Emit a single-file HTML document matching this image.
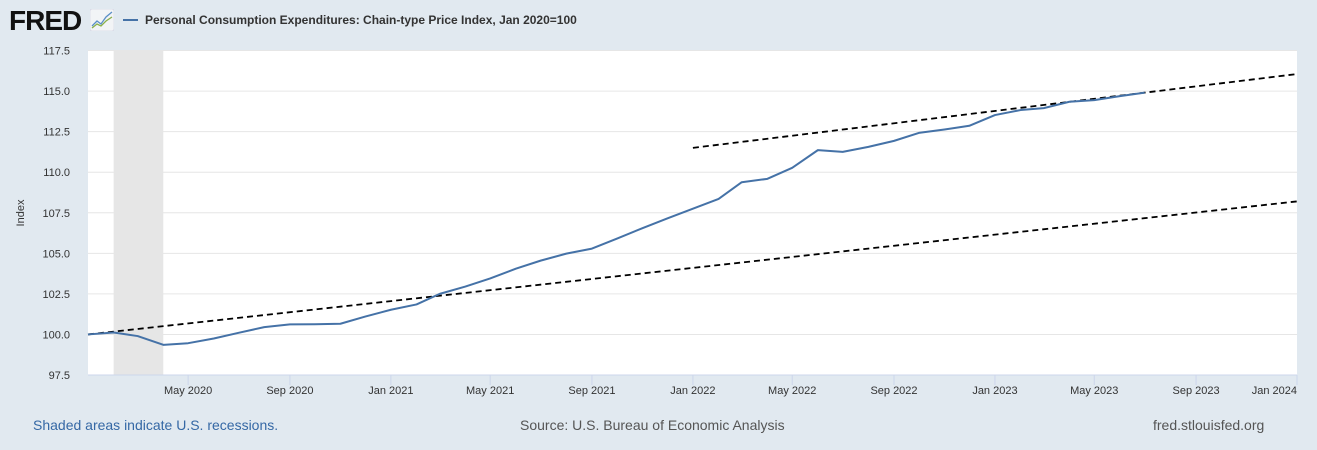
<!DOCTYPE html>
<html><head><meta charset="utf-8">
<style>
body{margin:0;background:#e1e9f0;font-family:"Liberation Sans",Arial,sans-serif;}
#wrap{position:relative;width:1317px;height:450px;overflow:hidden;background:#e1e9f0;}
.t{position:absolute;white-space:nowrap;}
</style></head><body>
<div id="wrap">
<div class="t" style="left:9px;top:5px;font-size:28px;font-weight:bold;letter-spacing:-1px;color:#111;">FRED</div>
<svg class="t" style="left:90px;top:9px" width="24" height="22"><rect x="0" y="0" width="24" height="22" rx="2" fill="#f2f4f6" stroke="#ccd" stroke-width="0.5"/><polyline points="2,17 7,12 11,15 16,8 22,3" fill="none" stroke="#5b8fc7" stroke-width="1.3"/><polyline points="2,19 7,15 11,17 16,12 22,8" fill="none" stroke="#8ab04a" stroke-width="1.3"/></svg>
<div class="t" style="left:123px;top:19px;width:15px;height:2px;background:#4572a7"></div>
<div class="t" style="left:145px;top:13px;font-size:12px;font-weight:bold;color:#333">Personal Consumption Expenditures: Chain-type Price Index, Jan 2020=100</div>
<svg id="chart" class="t" style="left:0;top:0" width="1317" height="450"></svg>
<div class="t" style="left:33px;top:417px;font-size:14px;color:#3568a5">Shaded areas indicate U.S. recessions.</div>
<div class="t" style="left:520px;top:417px;font-size:14px;color:#555">Source: U.S. Bureau of Economic Analysis</div>
<div class="t" style="left:1153px;top:417px;font-size:14px;color:#555">fred.stlouisfed.org</div>
</div>
<script>
const months=["2020-01","2020-02","2020-03","2020-04","2020-05","2020-06","2020-07","2020-08","2020-09","2020-10","2020-11","2020-12",
"2021-01","2021-02","2021-03","2021-04","2021-05","2021-06","2021-07","2021-08","2021-09","2021-10","2021-11","2021-12",
"2022-01","2022-02","2022-03","2022-04","2022-05","2022-06","2022-07","2022-08","2022-09","2022-10","2022-11","2022-12",
"2023-01","2023-02","2023-03","2023-04","2023-05","2023-06","2023-07"];
const pceValues=[100,100.12,99.9,99.36,99.46,99.75,100.1,100.45,100.62,100.63,100.66,101.1,
101.52,101.85,102.5,102.95,103.45,104.05,104.55,104.98,105.29,105.9,106.55,107.15,
107.75,108.35,109.38,109.59,110.27,111.36,111.25,111.56,111.93,112.42,112.63,112.86,
113.52,113.83,113.95,114.34,114.44,114.69,114.9];
const trendLowDates=["2020-01","2024-01"];
const trendLowValues=[100,108.2];
const trendHighDates=["2022-01","2024-01"];
const trendHighValues=[111.5,116.05];
const recessionDates=["2020-02","2020-04"];
const yTicks=[97.5,100,102.5,105,107.5,110,112.5,115,117.5];
const yTickLabels=["97.5","100.0","102.5","105.0","107.5","110.0","112.5","115.0","117.5"];
const xTicks=["2020-05","2020-09","2021-01","2021-05","2021-09","2022-01","2022-05","2022-09","2023-01","2023-05","2023-09","2024-01"];
const xTickLabels=["May 2020","Sep 2020","Jan 2021","May 2021","Sep 2021","Jan 2022","May 2022","Sep 2022","Jan 2023","May 2023","Sep 2023","Jan 2024"];

const L=88,R=1297,T=50.5,B=375;
const t0=Date.UTC(2020,0,1),t1=Date.UTC(2024,0,1);
function d(s){const p=s.split("-");return Date.UTC(+p[0],+p[1]-1,1);}
function xs(s){return L+(d(s)-t0)/(t1-t0)*(R-L);}
function ys(v){return B-(v-97.5)/(117.5-97.5)*(B-T);}
const svg=document.getElementById('chart');
const NS="http://www.w3.org/2000/svg";
function mk(tag,attrs,parent){const e=document.createElementNS(NS,tag);for(const k in attrs)e.setAttribute(k,attrs[k]);(parent||svg).appendChild(e);return e;}
const bg=mk('rect',{x:L,y:T,width:R-L,height:B-T,fill:'#fff'});


const rec=mk('rect',{x:xs(recessionDates[0]),y:T,width:xs(recessionDates[1])-xs(recessionDates[0]),height:B-T,fill:'#e6e6e6'});


yTicks.forEach((v,i)=>{
  if(i>0){const g=mk('line',{x1:L,x2:R,y1:ys(v),y2:ys(v),stroke:'#e6e6e6','stroke-width':1});
  
  }
  const tx=mk('text',{x:70,y:ys(v)+4,'text-anchor':'end','font-size':11,fill:'#333','font-family':'Liberation Sans, Arial, sans-serif'});
  tx.textContent=yTickLabels[i];
  
  
});
const ax=mk('line',{x1:L,x2:R,y1:B,y2:B,stroke:'#ccd6eb','stroke-width':1});


xTicks.forEach((s,i)=>{
  const tk=mk('line',{x1:xs(s),x2:xs(s),y1:B,y2:B+10,stroke:'#ccd6eb'});
  
  
  const last=i===xTicks.length-1;
  const tx=mk('text',{x:last?R:xs(s),y:394,'text-anchor':last?'end':'middle','font-size':11,fill:'#333','font-family':'Liberation Sans, Arial, sans-serif'});
  tx.textContent=xTickLabels[i];
  
  
});
const yt=mk('text',{x:24,y:213,'text-anchor':'middle','font-size':11,fill:'#333',transform:'rotate(-90 24 213)','font-family':'Liberation Sans, Arial, sans-serif'});
yt.textContent='Index';


const tl=mk('polyline',{points:trendLowDates.map((s,i)=>xs(s)+','+ys(trendLowValues[i])).join(' '),fill:'none',stroke:'#000','stroke-width':1.8,'stroke-dasharray':'6,4'});


const th=mk('polyline',{points:trendHighDates.map((s,i)=>xs(s)+','+ys(trendHighValues[i])).join(' '),fill:'none',stroke:'#000','stroke-width':1.8,'stroke-dasharray':'6,4'});


const ln=mk('polyline',{points:months.map((s,i)=>xs(s)+','+ys(pceValues[i])).join(' '),fill:'none',stroke:'#4572a7','stroke-width':2,'stroke-linejoin':'round'});


</script>
</body></html>
